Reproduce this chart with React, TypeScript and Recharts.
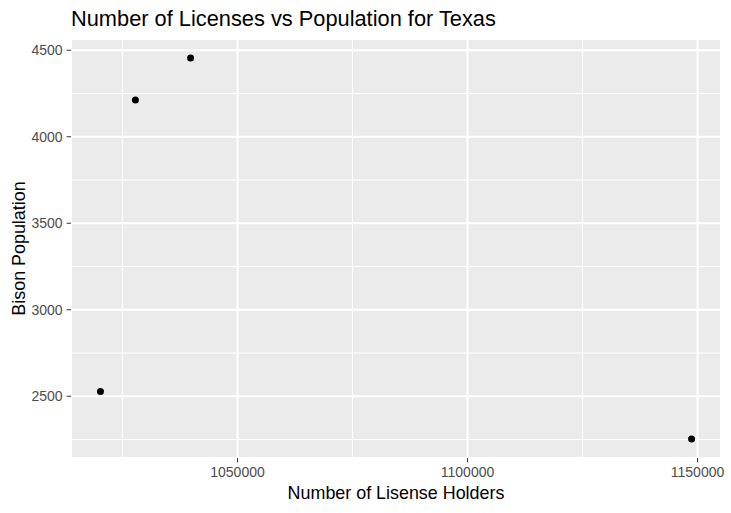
import { ScatterChart, Scatter, XAxis, YAxis, CartesianGrid, ReferenceLine, Label } from "recharts"

const licenseHolders = [1020200, 1027800, 1039800, 1148700]
const bisonPopulation = [2528, 4212, 4455, 2253]

const xTicks = [1050000, 1100000, 1150000]
const yTicks = [2500, 3000, 3500, 4000, 4500]
const xMinor = [1025000, 1075000, 1125000]
const yMinor = [2250, 2750, 3250, 3750, 4250]

const points = licenseHolders.map((x, i) => ({ x, y: bisonPopulation[i] }))

const font = "'Liberation Sans', Arial, sans-serif"
const tickStyle = { fill: "#4D4D4D", fontSize: 14, fontFamily: font }

const Dot = (props: any) => <circle cx={props.cx} cy={props.cy} r={3.5} fill="#000" />

export default function App() {
  return (
    <div style={{ position: "absolute", left: 0, top: 0, width: 731, height: 513, background: "#fff" }}>
      <div
        style={{
          position: "absolute",
          left: 71,
          top: 8,
          fontFamily: font,
          fontSize: 21.8,
          lineHeight: "22px",
          color: "#000",
          whiteSpace: "nowrap",
        }}
      >
        Number of Licenses vs Population for Texas
      </div>
      <ScatterChart width={731} height={513} margin={{ top: 39, right: 10, bottom: 0, left: 0 }}>
        <CartesianGrid stroke="#FFFFFF" strokeWidth={2} fill="#EBEBEB" fillOpacity={1} />
        {xMinor.map((v) => (
          <ReferenceLine key={"x" + v} x={v} stroke="#FFFFFF" strokeWidth={1} />
        ))}
        {yMinor.map((v) => (
          <ReferenceLine key={"y" + v} y={v} stroke="#FFFFFF" strokeWidth={1} />
        ))}
        <XAxis
          type="number"
          dataKey="x"
          domain={[1013800, 1155100]}
          ticks={xTicks}
          allowDataOverflow
          height={55}
          axisLine={false}
          tickLine={{ stroke: "#333333" }}
          tickSize={4.4}
          tickMargin={4.6}
          tick={tickStyle}
        >
          <Label
            content={({ viewBox }: any) => (
              <text
                x={viewBox.x + viewBox.width / 2}
                y={499}
                textAnchor="middle"
                fontFamily={font}
                fontSize={17.9}
                fill="#000"
              >
                Number of Lisense Holders
              </text>
            )}
          />
        </XAxis>
        <YAxis
          type="number"
          dataKey="y"
          domain={[2143, 4565]}
          ticks={yTicks}
          allowDataOverflow
          width={71}
          axisLine={false}
          tickLine={{ stroke: "#333333" }}
          tickSize={4.4}
          tickMargin={4}
          tick={tickStyle}
        >
          <Label
            content={({ viewBox }: any) => {
              const cy = viewBox.y + viewBox.height / 2
              return (
                <text
                  x={24.6}
                  y={cy}
                  transform={`rotate(-90 24.6 ${cy})`}
                  textAnchor="middle"
                  fontFamily={font}
                  fontSize={17.9}
                  fill="#000"
                >
                  Bison Population
                </text>
              )
            }}
          />
        </YAxis>
        <Scatter data={points} shape={Dot} isAnimationActive={false} />
      </ScatterChart>
    </div>
  )
}
